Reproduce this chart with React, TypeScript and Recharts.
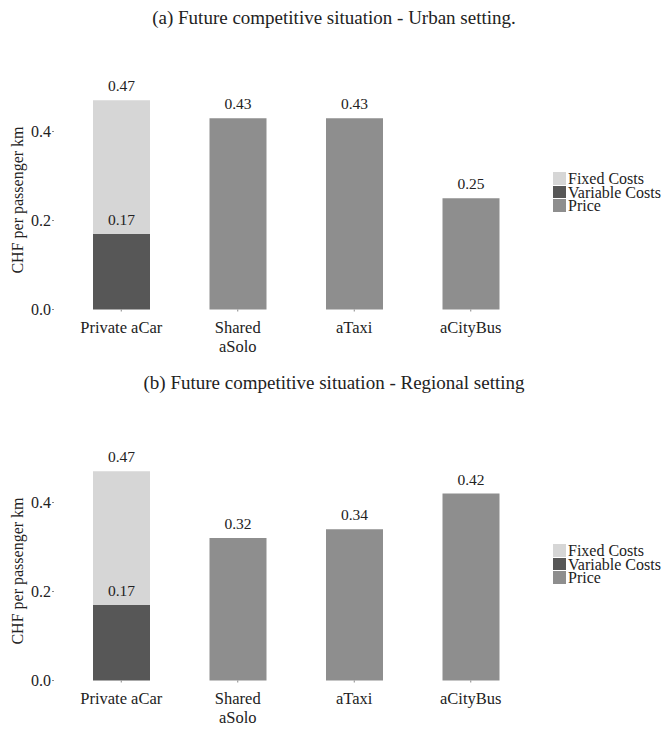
import { Bar, BarChart, LabelList, XAxis, YAxis } from "recharts";

const categories = ["Private aCar", "Shared\naSolo", "aTaxi", "aCityBus"];

// (a) urban setting
const urbanVariable = [0.17, null, null, null];
const urbanTotal = [0.47, null, null, null];
const urbanPrice = [null, 0.43, 0.43, 0.25];

// (b) regional setting
const regionalVariable = [0.17, null, null, null];
const regionalTotal = [0.47, null, null, null];
const regionalPrice = [null, 0.32, 0.34, 0.42];

const yTicks = [0, 0.2, 0.4];

const FONT = "Liberation Serif, Times New Roman, Times, Nimbus Roman, Noto Serif, DejaVu Serif, serif";
const FIXED = "#d6d6d6";
const VARIABLE = "#575757";
const PRICE = "#8e8e8e";

const buildRows = (variable, total, price) =>
  categories.map((name, i) => ({
    name,
    variable: variable[i],
    total: total[i],
    fixed: total[i] != null && variable[i] != null ? total[i] - variable[i] : null,
    price: price[i],
  }));

const fmt = (v) => (v == null ? "" : Number(v).toFixed(2));

const CategoryTick = ({ x, y, payload }) => {
  const lines = String(payload.value).split("\n");
  return (
    <text x={x} y={y} textAnchor="middle" fill="#222" fontFamily={FONT} fontSize={16.5}>
      {lines.map((l, i) => (
        <tspan key={i} x={x} dy={i === 0 ? "0.71em" : 19}>
          {l}
        </tspan>
      ))}
    </text>
  );
};

const LegendBox = ({ top }) => {
  const items = [
    ["Fixed Costs", FIXED],
    ["Variable Costs", VARIABLE],
    ["Price", PRICE],
  ];
  return (
    <div style={{ position: "absolute", left: 553, top, fontFamily: FONT, fontSize: 16, color: "#222" }}>
      {items.map(([label, color]) => (
        <div key={label} style={{ display: "flex", alignItems: "center", height: 13.4 }}>
          <div style={{ width: 13, height: 12.5, background: color, marginRight: 2 }} />
          <span style={{ lineHeight: "13px", whiteSpace: "nowrap" }}>{label}</span>
        </div>
      ))}
    </div>
  );
};

const Panel = ({ top, titleTop, title, rows }) => (
  <div style={{ position: "absolute", left: 0, top, width: 668, height: 365 }}>
    <div
      style={{
        position: "absolute",
        left: 0,
        width: 668,
        top: titleTop,
        textAlign: "center",
        fontFamily: FONT,
        fontSize: 19,
        color: "#222",
        lineHeight: "20px",
      }}
    >
      {title}
    </div>
    <div
      style={{
        position: "absolute",
        left: 18,
        top: 200,
        transform: "translate(-50%, -50%) rotate(-90deg)",
        fontFamily: FONT,
        fontSize: 16,
        color: "#222",
        whiteSpace: "nowrap",
      }}
    >
      CHF per passenger km
    </div>
    <BarChart
      width={668}
      height={365}
      data={rows}
      margin={{ top: 87, right: 128, bottom: 15, left: 0 }}
      barSize={57}
    >
      <XAxis
        dataKey="name"
        axisLine={false}
        tickLine={{ stroke: "#888" }}
        tickSize={2}
        tickMargin={10}
        height={40.5}
        interval={0}
        padding={{ left: 9, right: 11 }}
        tick={<CategoryTick />}
      />
      <YAxis
        domain={[0, 0.5]}
        ticks={yTicks}
        tickFormatter={(v) => v.toFixed(1)}
        axisLine={false}
        tickLine={{ stroke: "#888" }}
        tickSize={2}
        tickMargin={1}
        width={54}
        tick={{ fill: "#222", fontFamily: FONT, fontSize: 16 }}
      />
      <Bar dataKey="variable" stackId="a" fill={VARIABLE} isAnimationActive={false}>
        <LabelList dataKey="variable" position="top" offset={9} formatter={fmt} fill="#222" fontFamily={FONT} fontSize={15.5} />
      </Bar>
      <Bar dataKey="fixed" stackId="a" fill={FIXED} isAnimationActive={false}>
        <LabelList dataKey="total" position="top" offset={9} formatter={fmt} fill="#222" fontFamily={FONT} fontSize={15.5} />
      </Bar>
      <Bar dataKey="price" stackId="a" fill={PRICE} isAnimationActive={false}>
        <LabelList dataKey="price" position="top" offset={9} formatter={fmt} fill="#222" fontFamily={FONT} fontSize={15.5} />
      </Bar>
    </BarChart>
  </div>
);

export default function App() {
  return (
    <div style={{ position: "absolute", left: 0, top: 0, width: 668, height: 729, background: "#fff" }}>
      <Panel
        top={0}
        titleTop={8}
        title="(a) Future competitive situation - Urban setting."
        rows={buildRows(urbanVariable, urbanTotal, urbanPrice)}
      />
      <Panel
        top={371}
        titleTop={2}
        title="(b) Future competitive situation - Regional setting"
        rows={buildRows(regionalVariable, regionalTotal, regionalPrice)}
      />
      <LegendBox top={172} />
      <LegendBox top={544} />
    </div>
  );
}
